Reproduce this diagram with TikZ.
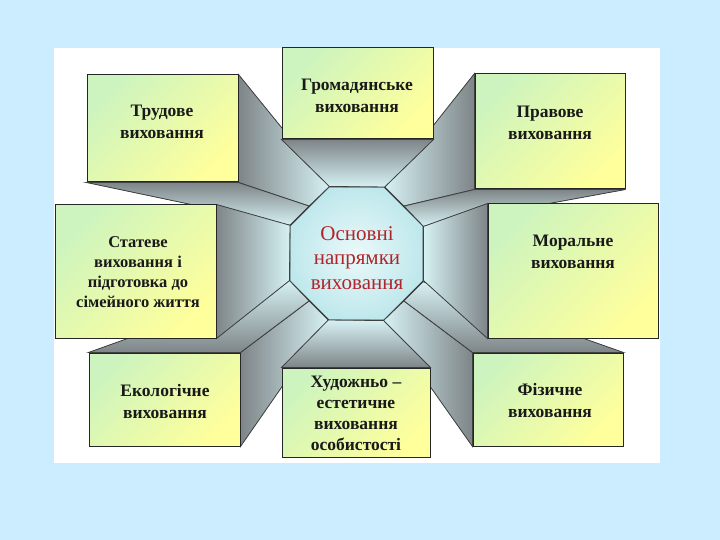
\documentclass[tikz,border=0pt]{standalone}
\usepackage{fontspec}
\setmainfont{Liberation Serif}
\usetikzlibrary{shapes.geometric,backgrounds}
\definecolor{bgblue}{HTML}{CCECFF}
\definecolor{boxgreen}{HTML}{CDF4BE}
\definecolor{boxyellow}{HTML}{FFFF9C}
\definecolor{octin}{HTML}{EAF9F9}
\definecolor{octout}{HTML}{BFE8EC}
\definecolor{fdark}{HTML}{7E8588}
\definecolor{flight}{HTML}{D6F1F3}
\definecolor{osnred}{HTML}{B0242C}

\begin{document}
\begin{tikzpicture}[x=1pt,y=-1pt,
  box/.style={draw=black!85,line width=1pt,top color=boxgreen,bottom color=boxyellow,shading angle=45,inner sep=0pt},
  oct/.style={regular polygon,regular polygon sides=8,minimum size=144pt,inner sep=0pt,draw=black!80,line width=1pt,inner color=octin,outer color=octout},
  face/.style={draw=black!75,line width=.8pt},
  faceL/.style={face,left color=fdark,right color=flight},
  faceR/.style={face,left color=flight,right color=fdark},
  faceT/.style={face,top color=fdark,bottom color=flight},
  faceB/.style={face,top color=flight,bottom color=fdark},
  txt/.style={font=\bfseries\fontsize{17.5}{22}\selectfont,align=center,text=black!90}]
\useasboundingbox (0,0) rectangle (720,540);

\node[box,minimum width=151pt,minimum height=107pt] (trud) at (162.5,128.5) {};
\node[box,minimum width=151pt,minimum height=91pt] (hrom) at (357.5,93.5) {};
\node[box,minimum width=150pt,minimum height=115pt] (prav) at (550,131.5) {};
\node[box,minimum width=161pt,minimum height=133pt] (stat) at (135.5,271.5) {};
\node[box,minimum width=170pt,minimum height=134pt] (moral) at (573,271) {};
\node[box,minimum width=151pt,minimum height=93pt] (ekol) at (164.5,399.5) {};
\node[box,minimum width=148pt,minimum height=89pt] (khud) at (356,412.5) {};
\node[box,minimum width=150pt,minimum height=93pt] (fiz) at (548,399.5) {};

\begin{scope}[on background layer]
\fill[bgblue] (0,0) rectangle (720,540);
\fill[white] (54,48) rectangle (660,463);
\node[oct] (osn) at (356.5,253.5) {};

\filldraw[faceL] (trud.north east) -- (trud.south east) -- (osn.135) -- (osn.112.5) -- cycle;
\filldraw[faceT] (trud.south west) -- (trud.south east) -- (osn.135) -- (osn.157.5) -- cycle;
\filldraw[faceR] (prav.north west) -- (prav.south west) -- (osn.45) -- (osn.67.5) -- cycle;
\filldraw[faceT] (prav.south east) -- (prav.south west) -- (osn.45) -- (osn.22.5) -- cycle;
\filldraw[faceL] (ekol.south east) -- (ekol.north east) -- (osn.225) -- (osn.247.5) -- cycle;
\filldraw[faceB] (ekol.north west) -- (ekol.north east) -- (osn.225) -- (osn.202.5) -- cycle;
\filldraw[faceR] (fiz.south west) -- (fiz.north west) -- (osn.315) -- (osn.292.5) -- cycle;
\filldraw[faceB] (fiz.north east) -- (fiz.north west) -- (osn.315) -- (osn.337.5) -- cycle;

\filldraw[faceT] (hrom.south west) -- (hrom.south east) -- (osn.67.5) -- (osn.112.5) -- cycle;
\filldraw[faceL] (stat.north east) -- (stat.south east) -- (osn.202.5) -- (osn.157.5) -- cycle;
\filldraw[faceR] (moral.north west) -- (moral.south west) -- (osn.-22.5) -- (osn.22.5) -- cycle;
\filldraw[faceB] (khud.north west) -- (khud.north east) -- (osn.292.5) -- (osn.247.5) -- cycle;
\end{scope}

\node[font=\fontsize{21}{24.5}\selectfont,text=osnred,align=center] (osnT) at (357,258) {Основні\\напрямки\\виховання};
\node[txt] (trudT) at (162,122) {Трудове\\виховання};
\node[txt] (hromT) at (357,96) {Громадянське\\виховання};
\node[txt] (pravT) at (550,123) {Правове\\виховання};
\node[txt,font=\bfseries\fontsize{16.5}{20}\selectfont] (statT) at (138,272) {Статеве\\виховання і\\підготовка до\\сімейного життя};
\node[txt] (moralT) at (573,252) {Моральне\\виховання};
\node[txt] (ekolT) at (165,402) {Екологічне\\виховання};
\node[txt,font=\bfseries\fontsize{17.5}{21}\selectfont] (khudT) at (356,413) {Художньо –\\естетичне\\виховання\\особистості};
\node[txt] (fizT) at (550,401) {Фізичне\\виховання};
\end{tikzpicture}
\end{document}
